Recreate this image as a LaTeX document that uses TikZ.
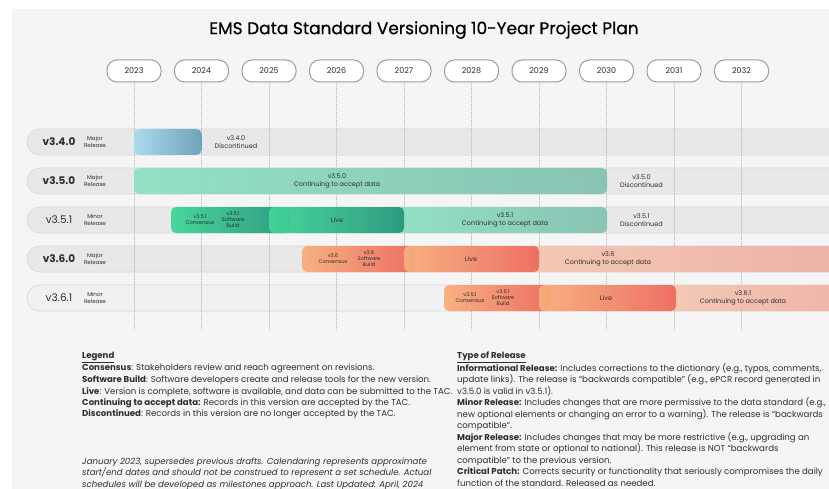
\documentclass[tikz,border=0pt]{standalone}
\usepackage{fontspec}
\setmainfont{Poppins}
\newfontfamily\titlefont[FakeBold=0.6]{Poppins}
\definecolor{bgc}{HTML}{F5F5F5}
\definecolor{rowc}{HTML}{E8E8E8}
\definecolor{rowlight}{HTML}{F1F1F1}
\definecolor{rowl}{HTML}{DADADA}
\definecolor{txt}{HTML}{2E2E2E}
\definecolor{pillb}{HTML}{9C9C9C}
\definecolor{vl}{HTML}{B5B5B5}
\definecolor{blueA}{HTML}{A9DAEE}
\definecolor{blueB}{HTML}{6A9FB8}
\definecolor{gA}{HTML}{8FE1C3}
\definecolor{gB}{HTML}{84C2B2}
\definecolor{dgA}{HTML}{40D698}
\definecolor{dgB}{HTML}{26977C}
\definecolor{oA}{HTML}{F8AE7C}
\definecolor{oB}{HTML}{EE6A5E}
\definecolor{pA}{HTML}{F4C7B2}
\definecolor{pB}{HTML}{EEABA3}
\tikzset{
  title/.style={font=\titlefont\fontsize{17}{20}\selectfont, text=black},
  yearpill/.style={draw=pillb, line width=1pt, fill=white, rounded corners=10pt, minimum width=54pt, minimum height=22pt, inner sep=0pt, font=\fontsize{8}{9}\selectfont, text=txt},
  vline/.style={draw=vl, line width=0.6pt, dash pattern=on 1pt off 1pt},
  rowbg/.style={fill=rowc, draw=rowl, line width=0.8pt, rounded corners=13pt},
  vname/.style={font=\fontsize{10.5}{12}\selectfont, text=txt},
  vtype/.style={font=\fontsize{5.6}{6.6}\selectfont, text=txt, align=center},
  bartxt/.style={font=\fontsize{6.5}{7.6}\selectfont, text=txt, align=center, inner sep=0pt},
  smalltxt/.style={font=\fontsize{5.2}{5.9}\selectfont, text=txt, align=center, inner sep=0pt},
  bar/.style={rounded corners=5pt, opacity=0.95},
  leg/.style={font=\fontsize{8.6}{9}\selectfont, text=txt, anchor=base west, inner sep=0pt},
}
\begin{document}
\begin{tikzpicture}[x=1pt,y=-1pt]
\useasboundingbox (0,0) rectangle (829,489);
\fill[white] (0,0) rectangle (829,489);
\fill[bgc] (12,9) rectangle (829,489);
\node[title] (title) at (424,30) {EMS Data Standard Versioning 10-Year Project Plan};

\begin{scope}
\clip (0,0) rectangle (829,489);
% rows
\foreach \yy in {142,181,220,259} {
  \path[rowbg] (27,{\yy-13}) rectangle (880,{\yy+13});
}
\path[rowbg, fill=rowlight] (27,285) rectangle (880,311);
% year pills and guide lines
\foreach \yr [count=\i from 0] in {2023,2024,2025,2026,2027,2028,2029,2030,2031,2032} {
  \pgfmathsetmacro\xx{134+67.5*\i}
  \node[yearpill] (y\yr) at (\xx,71) {\yr};
  \coordinate (e\yr) at (\xx,330);
  \draw[vline] (y\yr.south) -- (e\yr);
}
% v3.4.0
\shade[bar, left color=blueA, right color=blueB] (134,129) rectangle (201.5,155);
\node[bartxt] (d340) at (236,142) {v3.4.0\\Discontinued};
% v3.5.0
\shade[bar, left color=gA, right color=gB] (134,168) rectangle (607,194);
\node[bartxt] (c350) at (337,181) {v3.5.0\\Continuing to accept data};
\node[bartxt] (d350) at (641.5,181) {v3.5.0\\Discontinued};
% v3.5.1
\shade[bar, left color=gA, right color=gB] (395,207) rectangle (607,233);
\shade[bar, left color=dgA, right color=dgB] (171,207) rectangle (290,233);
\shade[bar, left color=dgA, right color=dgB] (269,207) rectangle (404,233);
\node[smalltxt] (k351) at (200,220) {v3.5.1\\Consensus};
\node[smalltxt] (s351) at (233,220) {v3.5.1\\Software\\Build};
\node[bartxt] (l351) at (337,220) {Live};
\node[bartxt] (c351) at (505,220) {v3.5.1\\Continuing to accept data};
\node[bartxt] (d351) at (641.5,220) {v3.5.1\\Discontinued};
% v3.6.0
\shade[bar, left color=pA, right color=pB] (530,246) rectangle (900,272);
\shade[bar, left color=oA, right color=oB] (302,246) rectangle (415,272);
\shade[bar, left color=oA, right color=oB] (404,246) rectangle (539,272);
\node[smalltxt] (k360) at (333,259) {v3.6\\Consensus};
\node[smalltxt] (s360) at (369,259) {v3.6\\Software\\Build};
\node[bartxt] (l360) at (471,259) {Live};
\node[bartxt] (c360) at (608,259) {v3.6\\Continuing to accept data};
% v3.6.1
\shade[bar, left color=pA, right color=pB] (667,285) rectangle (900,311);
\shade[bar, left color=oA, right color=oB] (444,285) rectangle (550,311);
\shade[bar, left color=oA, right color=oB] (539,285) rectangle (676,311);
\node[smalltxt] (k361) at (470,298) {v3.6.1\\Consensus};
\node[smalltxt] (s361) at (503,298) {v3.6.1\\Software\\Build};
\node[bartxt] (l361) at (606,298) {Live};
\node[bartxt] (c361) at (743,298) {v3.6.1\\Continuing to accept data};
\end{scope}

% version labels
\node[vname] (n340) at (59,142) {\textbf{v3.4.0}};
\node[vtype] (t340) at (95,142) {Major\\Release};
\node[vname] (n350) at (59,181) {\textbf{v3.5.0}};
\node[vtype] (t350) at (95,181) {Major\\Release};
\node[vname] (n351) at (59,220) {v3.5.1};
\node[vtype] (t351) at (95,220) {Minor\\Release};
\node[vname] (n360) at (59,259) {\textbf{v3.6.0}};
\node[vtype] (t360) at (95,259) {Major\\Release};
\node[vname] (n361) at (59,298) {v3.6.1};
\node[vtype] (t361) at (95,298) {Minor\\Release};

% legend left
\node[leg] (lg0) at (82,358.5) {\textbf{\underline{Legend}}};
\node[leg] (lg1) at (82,370) {\textbf{Consensus}: Stakeholders review and reach agreement on revisions.};
\node[leg] (lg2) at (82,382) {\textbf{Software Build}: Software developers create and release tools for the new version.};
\node[leg] (lg3) at (82,394) {\textbf{Live}: Version is complete, software is available, and data can be submitted to the TAC.};
\node[leg] (lg4) at (82,405.5) {\textbf{Continuing to accept data:} Records in this version are accepted by the TAC.};
\node[leg] (lg5) at (82,416.5) {\textbf{Discontinued}: Records in this version are no longer accepted by the TAC.};
\node[leg] (it1) at (82,464) {\itshape January 2023, supersedes previous drafts. Calendaring represents approximate};
\node[leg] (it2) at (82,475.5) {\itshape start/end dates and should not be construed to represent a set schedule. Actual};
\node[leg] (it3) at (82,487) {\itshape schedules will be developed as milestones approach. Last Updated: April, 2024};

% legend right
\node[leg] (tr0) at (457,358.5) {\textbf{\underline{Type of Release}}};
\node[leg] (tr1) at (457,371) {\textbf{Informational Release:} Includes corrections to the dictionary (e.g., typos, comments,};
\node[leg] (tr2) at (457,382.5) {update links). The release is “backwards compatible” (e.g., ePCR record generated in};
\node[leg] (tr3) at (457,394) {v3.5.0 is valid in v3.5.1).};
\node[leg] (tr4) at (457,405.5) {\textbf{Minor Release:} Includes changes that are more permissive to the data standard (e.g.,};
\node[leg] (tr5) at (457,417) {new optional elements or changing an error to a warning). The release is “backwards};
\node[leg] (tr6) at (457,428.5) {compatible”.};
\node[leg] (tr7) at (457,440) {\textbf{Major Release:} Includes changes that may be more restrictive (e.g., upgrading an};
\node[leg] (tr8) at (457,451.5) {element from state or optional to national). This release is NOT “backwards};
\node[leg] (tr9) at (457,463) {compatible” to the previous version.};
\node[leg] (tr10) at (457,474.5) {\textbf{Critical Patch:} Corrects security or functionality that seriously compromises the daily};
\node[leg] (tr11) at (457,486) {function of the standard. Released as needed.};
\end{tikzpicture}
\end{document}
